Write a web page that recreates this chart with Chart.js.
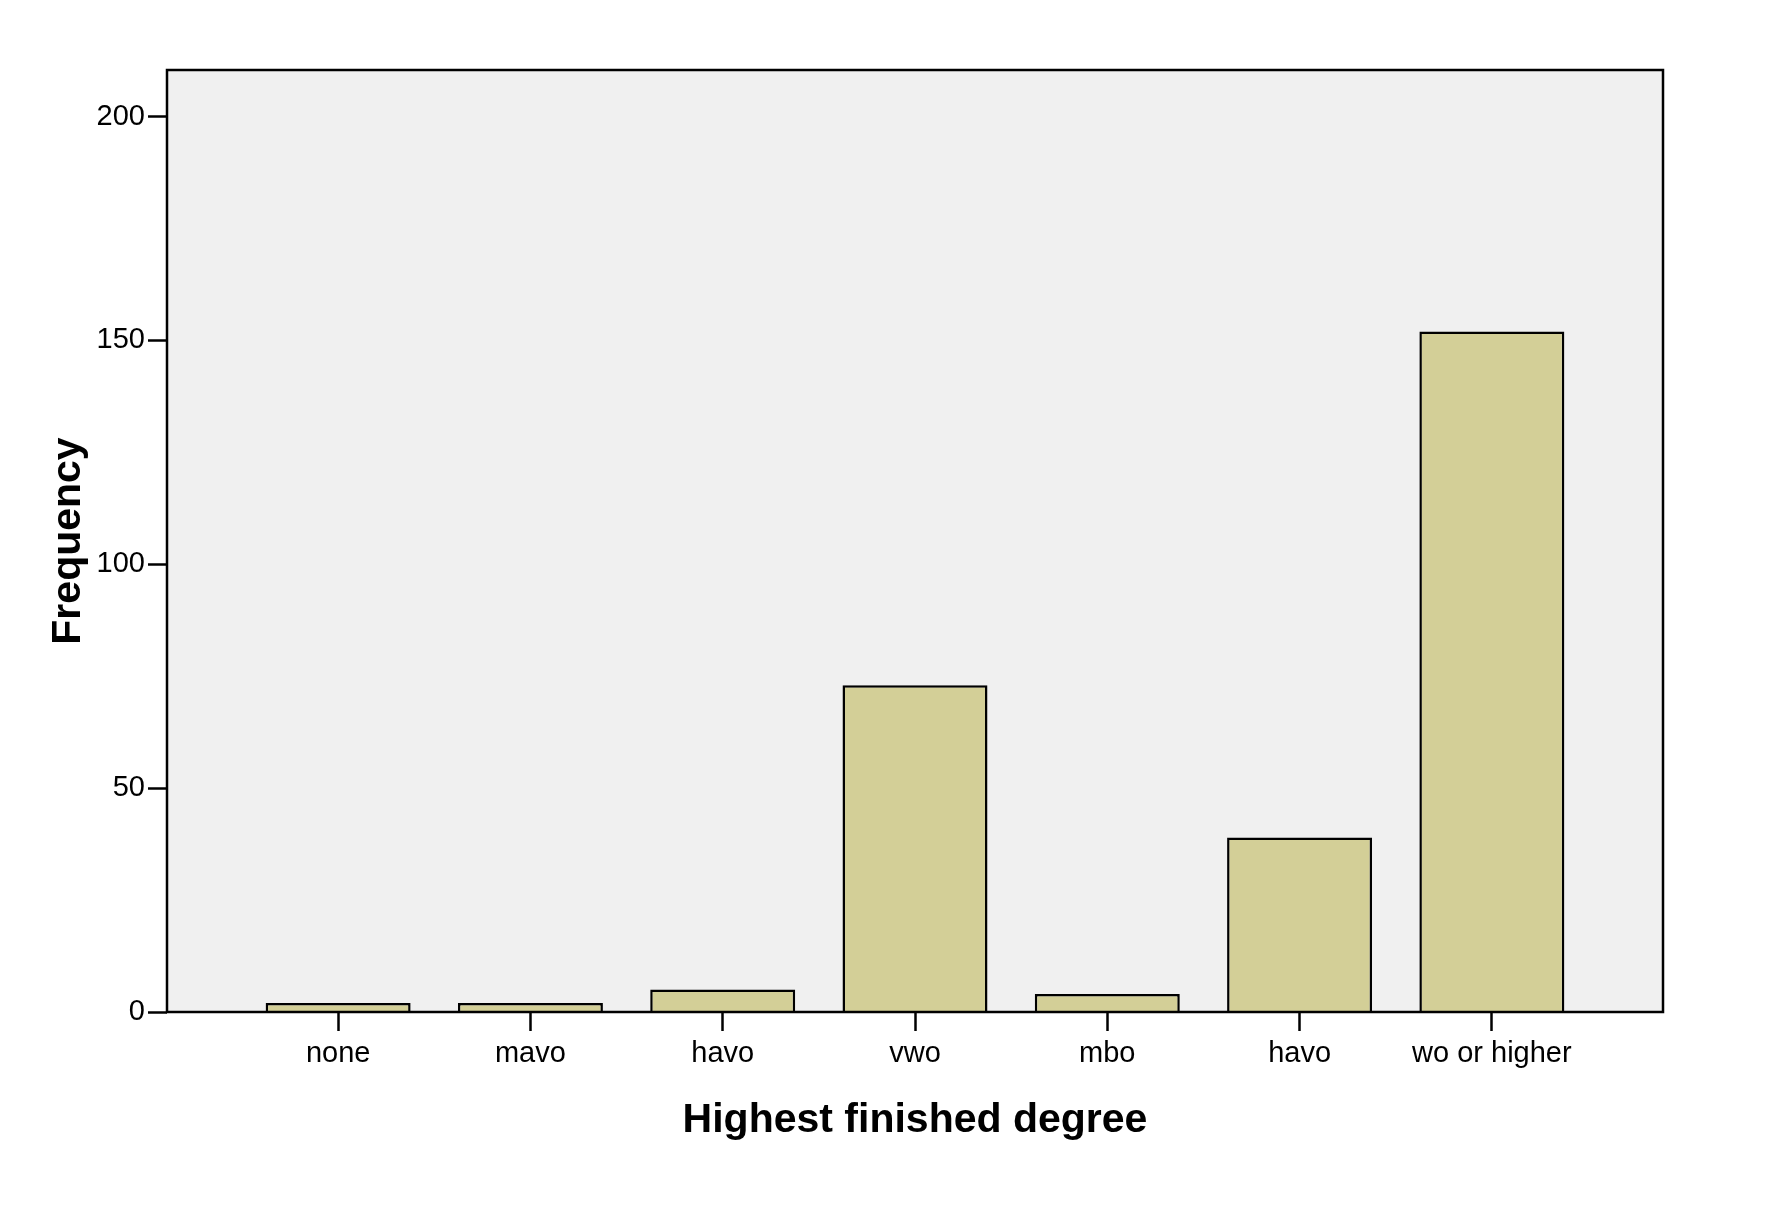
<!DOCTYPE html>
<html>
<head>
<meta charset="utf-8">
<script src="https://cdn.jsdelivr.net/npm/chart.js@4"></script>
<style>
  body { margin: 0; background: #fff; }
</style>
</head>
<body>
<canvas id="chart" width="1780" height="1207"></canvas>
<script>
const categories = ["none", "mavo", "havo", "vwo", "mbo", "havo", "wo or higher"];
const frequency = [2, 2, 5, 73, 4, 39, 152];
const yTicks = [0, 50, 100, 150, 200];

// plot frame + grey background
const frame = {
  id: "frame",
  beforeDraw(chart) {
    const { ctx, chartArea: a } = chart;
    ctx.save();
    ctx.fillStyle = "#f0f0f0";
    ctx.fillRect(a.left, a.top, a.right - a.left, a.bottom - a.top);
    ctx.restore();
  },
  afterDatasetsDraw(chart) {
    const { ctx, chartArea: a } = chart;
    ctx.save();
    ctx.strokeStyle = "#000";
    ctx.lineWidth = 2.5;
    ctx.strokeRect(a.left, a.top, a.right - a.left, a.bottom - a.top);
    ctx.restore();
  },
};

const tickFont = { family: "'Liberation Sans', Arial, sans-serif", size: 29 };
const titleFont = { family: "'Liberation Sans', Arial, sans-serif", size: 41, weight: "bold" };

new Chart(document.getElementById("chart").getContext("2d"), {
  type: "bar",
  data: {
    datasets: [
      {
        label: "Frequency",
        data: frequency.map((v, i) => ({ x: i, y: v })),
        backgroundColor: "#d3cf97",
        borderColor: "#000",
        borderWidth: 2.5,
        categoryPercentage: 1,
        barPercentage: 0.754,
      },
    ],
  },
  options: {
    responsive: false,
    animation: false,
    devicePixelRatio: 1,
    layout: { padding: { top: 70, right: 117, left: 0, bottom: 0 } },
    plugins: { legend: { display: false }, tooltip: { enabled: false } },
    scales: {
      x: {
        type: "linear",
        offset: false,
        min: -0.89,
        max: 6.89,
        afterBuildTicks: (s) => { s.ticks = categories.map((_, i) => ({ value: i })); },
        afterFit: (s) => { s.height = 195; },
        grid: {
          offset: false,
          drawOnChartArea: false,
          drawTicks: true,
          tickLength: 19,
          tickColor: "#000",
          tickWidth: 2.5,
        },
        border: { display: false },
        ticks: {
          color: "#000",
          font: tickFont,
          padding: 6,
          maxRotation: 0,
          autoSkip: false,
          callback: (v) => categories[v] ?? "",
        },
        title: {
          display: true,
          text: "Highest finished degree",
          color: "#000",
          font: titleFont,
          padding: { top: 0, bottom: 62 },
        },
      },
      y: {
        min: 0,
        max: 210.4,
        afterBuildTicks: (s) => { s.ticks = yTicks.map((v) => ({ value: v })); },
        afterFit: (s) => { s.width = 167; },
        grid: {
          drawOnChartArea: false,
          drawTicks: true,
          tickLength: 19,
          tickColor: "#000",
          tickWidth: 2.5,
        },
        border: { display: false },
        ticks: { color: "#000", font: tickFont, padding: 3 },
        title: {
          display: true,
          text: "Frequency",
          color: "#000",
          font: titleFont,
          padding: { top: 44, bottom: 0 },
        },
      },
    },
  },
  plugins: [frame],
});
</script>
</body>
</html>
